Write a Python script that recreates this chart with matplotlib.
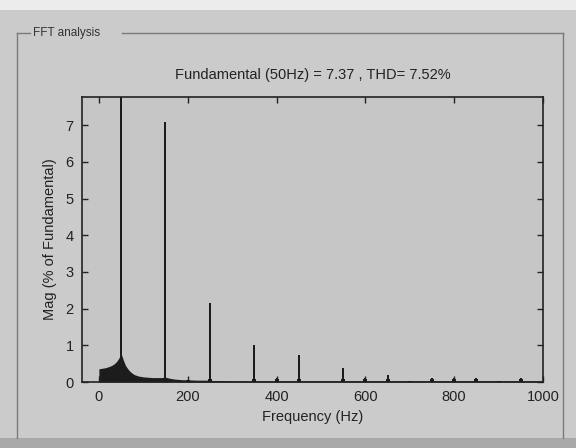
import matplotlib
matplotlib.use("Agg")
import matplotlib.pyplot as plt
from matplotlib.lines import Line2D
from matplotlib.patches import Rectangle

# ---- data ----
skirt_freq = [0, 5, 10, 15, 20, 25, 30, 35, 40, 45, 50, 55, 60, 65, 70, 75, 80, 90,
              100, 110, 120, 130, 140, 150, 160, 170, 180, 190, 200, 220, 240, 260, 280, 300,
              400, 500, 700, 1000]
skirt_mag = [0.36, 0.37, 0.38, 0.39, 0.41, 0.43, 0.46, 0.50, 0.56, 0.65, 0.78, 0.60, 0.45,
             0.36, 0.29, 0.24, 0.20, 0.16, 0.14, 0.13, 0.12, 0.12, 0.12, 0.13, 0.10, 0.08,
             0.07, 0.06, 0.06, 0.05, 0.05, 0.04, 0.04, 0.03, 0.03, 0.03, 0.03, 0.03]

harm_freq = [50, 150, 200, 250, 350, 400, 450, 550, 600, 650, 700, 750, 800, 850, 900, 950]
harm_mag = [100, 7.08, 0.06, 2.15, 1.0, 0.12, 0.73, 0.38, 0.12, 0.2, 0.04, 0.1, 0.12, 0.1, 0.03, 0.12]

x_ticks = [0, 200, 400, 600, 800, 1000]
y_ticks = [0, 1, 2, 3, 4, 5, 6, 7]

title_text = "Fundamental (50Hz) = 7.37 , THD= 7.52%"
panel_title = "FFT analysis"

plt.rcParams['font.family'] = ['Liberation Sans', 'DejaVu Sans']

fig = plt.figure(figsize=(5.76, 4.48), dpi=100)
fig.patch.set_facecolor('#cbcbcb')

# photo strips (top paper, bottom darker)
fig.add_artist(Rectangle((0, 1 - 10 / 448), 1, 10 / 448, transform=fig.transFigure,
                         facecolor='#ececec', edgecolor='none', zorder=0))
fig.add_artist(Rectangle((0, 0), 1, 10 / 448, transform=fig.transFigure,
                         facecolor='#a9a9a9', edgecolor='none', zorder=0))

# panel frame
W, H = 576, 448
def fx(px):
    return px / W
def fy(py):
    return 1 - py / H
lc = '#7a7a7a'
fig.add_artist(Line2D([fx(17), fx(30)], [fy(33), fy(33)], color=lc, lw=1.0))
fig.add_artist(Line2D([fx(122), fx(563)], [fy(33), fy(33)], color=lc, lw=1.0))
fig.add_artist(Line2D([fx(17), fx(17)], [fy(33), fy(438)], color=lc, lw=1.0))
fig.add_artist(Line2D([fx(563), fx(563)], [fy(33), fy(438)], color=lc, lw=1.0))
fig.text(fx(33), fy(33), panel_title, fontsize=8.5, color='#333333', va='center', ha='left')

ax = fig.add_axes([fx(82), fy(382), fx(543) - fx(82), fy(97) - fy(382)])
ax.set_facecolor('#c6c6c6')

ax.fill_between(skirt_freq, skirt_mag, 0, color='#1c1c1c', linewidth=0, zorder=2)
ax.bar(harm_freq, harm_mag, width=4.5, color='#1c1c1c', edgecolor='none', zorder=3)
# small bases at harmonics
ax.bar(harm_freq[1:], [min(0.08, m) for m in harm_mag[1:]], width=9,
       color='#1c1c1c', edgecolor='none', zorder=3)

ax.set_xlim(-38, 1000)
ax.set_ylim(0, 7.77)
ax.set_xticks(x_ticks)
ax.set_yticks(y_ticks)
ax.tick_params(direction='in', top=True, right=True, length=4, width=1,
               labelsize=10.5, colors='#222222', pad=6)
for s in ax.spines.values():
    s.set_color('#222222')
    s.set_linewidth(1.2)

ax.set_title(title_text, fontsize=10.5, color='#222222', pad=13)
ax.set_xlabel("Frequency (Hz)", fontsize=10.5, color='#222222', labelpad=4)
ax.set_ylabel("Mag (% of Fundamental)", fontsize=10.5, color='#222222', labelpad=6)

fig.savefig("out.png", dpi=100, facecolor=fig.get_facecolor())
